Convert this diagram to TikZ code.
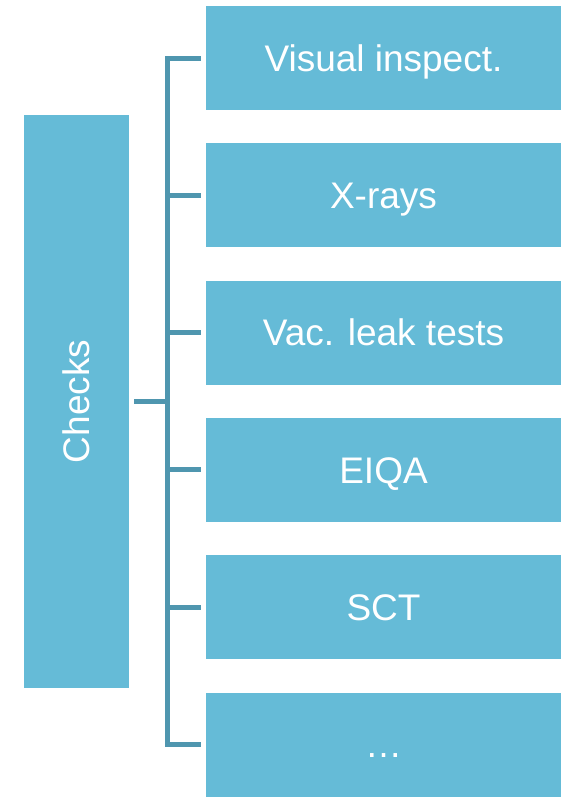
\documentclass[tikz,border=0pt]{standalone}
\usepackage{graphicx}
\usepackage{fontspec}
\setmainfont{Liberation Sans}
\definecolor{boxc}{HTML}{65BBD7}
\definecolor{linec}{HTML}{4F96AF}
\begin{document}
\begin{tikzpicture}[x=1pt,y=-1pt,
  box/.style={fill=boxc, draw=none, inner sep=0pt, minimum width=355pt, minimum height=104pt,
    text height=26.5pt, text depth=0pt,
    text=white, font=\fontsize{37}{40}\selectfont},
  conn/.style={draw=linec, line width=5pt, line join=miter}]
\useasboundingbox (0,0) rectangle (564,798);
\node[box, minimum width=105pt, minimum height=573pt, text height=, text depth=] (checks) at (76.5,401.5) {\rotatebox{90}{Checks}};
\node[box] (b1) at (383.5,58) {Visual inspect.};
\node[box] (b2) at (383.5,195.3) {X-rays};
\node[box] (b3) at (383.5,332.6) {Vac. leak tests};
\node[box] (b4) at (383.5,469.9) {EIQA};
\node[box] (b5) at (383.5,607.2) {SCT};
\node[box] (b6) at (383.5,744.5) {\dots};
\coordinate (spine) at (167.5,401.5);
\draw[conn] ([xshift=-5pt]b1.west) -- (spine |- b1.west) -- (spine |- b6.west) -- ([xshift=-5pt]b6.west);
\foreach \b in {b2,b3,b4,b5}
  \draw[conn] (spine |- \b.west) -- ([xshift=-5pt]\b.west);
\draw[conn] ([xshift=5pt]checks.east) -- (spine);
\end{tikzpicture}
\end{document}
